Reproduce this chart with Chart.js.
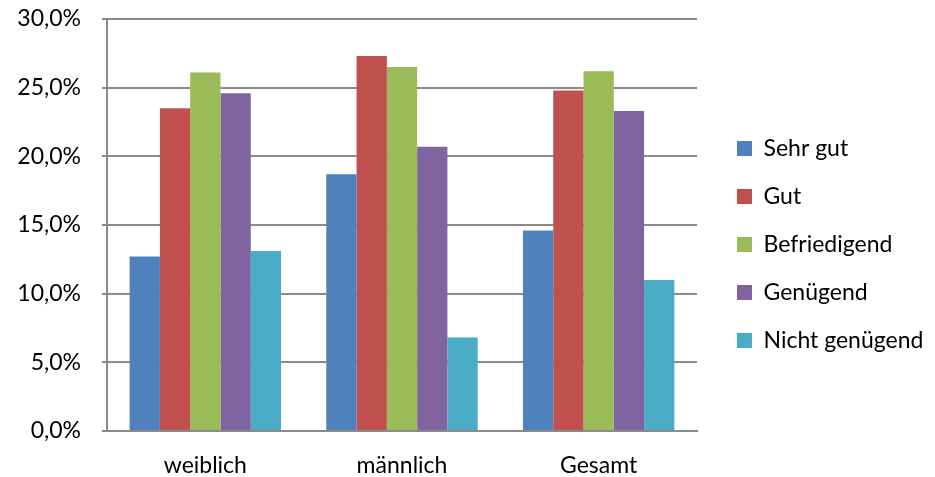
<!DOCTYPE html>
<html lang="de">
<head>
<meta charset="UTF-8">
<title>Noten</title>
<script src="https://cdn.jsdelivr.net/npm/chart.js"></script>
<style>
    body { margin: 0; padding: 0; background: #fff; }
    .chart-box { width: 935px; height: 477px; }
</style>
</head>
<body>
<div class="chart-box">
    <canvas id="noten"></canvas>
</div>
<script>
    // Kategorien und Werte (in Prozent)
    const categories = ['weiblich', 'männlich', 'Gesamt'];
    const seriesNames = ['Sehr gut', 'Gut', 'Befriedigend', 'Genügend', 'Nicht genügend'];
    const sehrGut = [12.7, 18.7, 14.6];
    const gut = [23.5, 27.3, 24.8];
    const befriedigend = [26.1, 26.5, 26.2];
    const genuegend = [24.6, 20.7, 23.3];
    const nichtGenuegend = [13.1, 6.8, 11.0];
    const yTicks = [0, 5, 10, 15, 20, 25, 30];

    const colors = ['#4F81BD', '#C0504D', '#9BBB59', '#8064A2', '#4BACC6'];
    const allValues = [sehrGut, gut, befriedigend, genuegend, nichtGenuegend];

    const datasets = seriesNames.map((name, i) => ({
        label: name,
        data: allValues[i],
        backgroundColor: colors[i],
        borderWidth: 0,
        barPercentage: 1.0,
        categoryPercentage: 0.77
    }));

    const fontFam = 'Lato, "Open Sans", sans-serif';

    // Legende: feste Breite, leicht verschoben (wie im Original)
    const legendPlace = {
        id: 'legendPlace',
        beforeInit(chart) {
            const lg = chart.legend;
            const origFit = lg.fit;
            lg.fit = function () { origFit.call(this); this.width = 238; };
        },
        afterLayout(chart) {
            const lg = chart.legend;
            lg.left += 15;
            lg.right += 15;
            lg.top += 6;
            lg.bottom += 6;
        }
    };

    new Chart(document.getElementById('noten'), {
        type: 'bar',
        data: { labels: categories, datasets: datasets },
        plugins: [legendPlace],
        options: {
            responsive: true,
            maintainAspectRatio: false,
            animation: false,
            layout: { padding: 0 },
            plugins: {
                tooltip: { enabled: false },
                legend: {
                    position: 'right',
                    labels: {
                        boxWidth: 15,
                        boxHeight: 15,
                        padding: 25,
                        color: '#000',
                        font: { family: fontFam, size: 23 }
                    }
                }
            },
            scales: {
                x: {
                    afterFit: s => { s.height = 46; },
                    grid: { display: false, drawTicks: false },
                    border: { color: '#8a8a8a', width: 2 },
                    ticks: { color: '#000', padding: 21, font: { family: fontFam, size: 23 } }
                },
                y: {
                    min: 0,
                    max: 30,
                    afterBuildTicks: axis => { axis.ticks = yTicks.map(v => ({ value: v })); },
                    afterFit: s => { s.width = 107; s.paddingTop = 19; },
                    grid: { color: '#8a8a8a', lineWidth: 2, tickLength: 5 },
                    border: { color: '#8a8a8a', width: 2 },
                    ticks: {
                        color: '#000',
                        padding: 21,
                        font: { family: fontFam, size: 23 },
                        callback: v => v.toFixed(1).replace('.', ',') + '%'
                    }
                }
            }
        }
    });
</script>
</body>
</html>
